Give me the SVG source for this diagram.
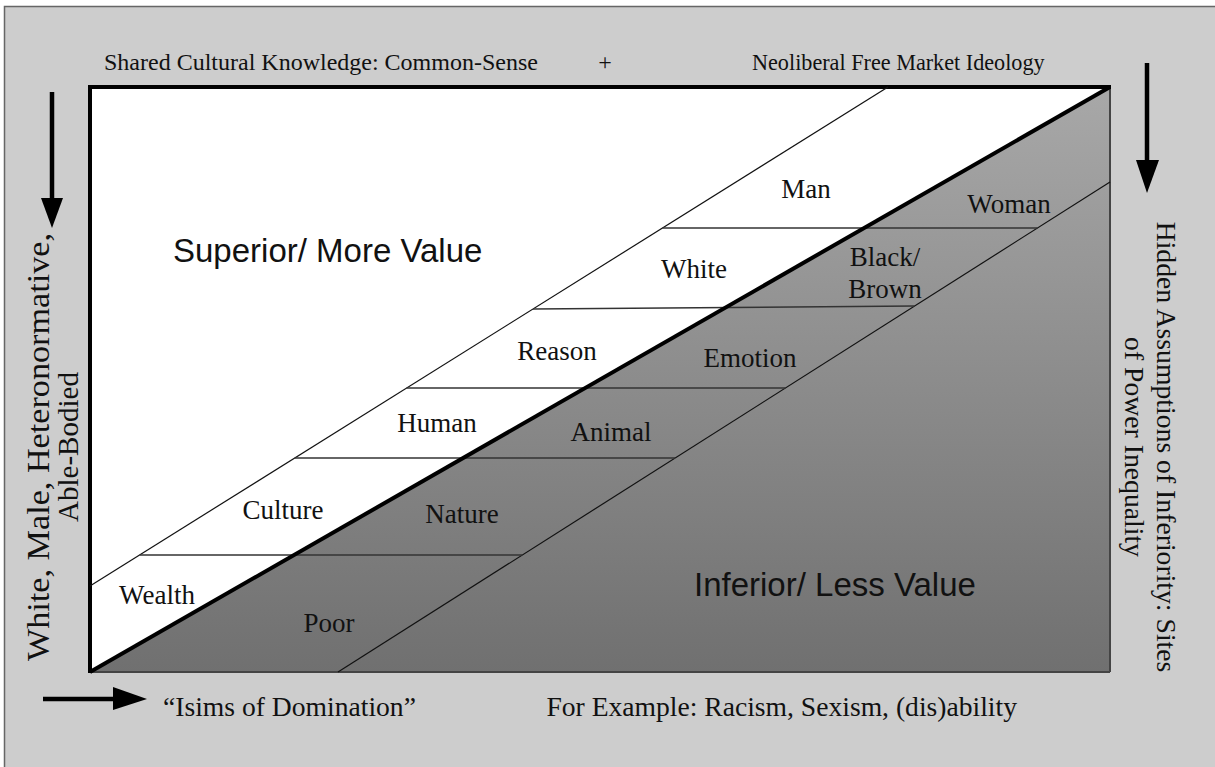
<svg xmlns="http://www.w3.org/2000/svg" width="1215" height="767" viewBox="0 0 1215 767">
<defs>
<linearGradient id="g" x1="0" y1="87" x2="0" y2="672" gradientUnits="userSpaceOnUse">
<stop offset="0" stop-color="#a8a8a8"/>
<stop offset="1" stop-color="#707070"/>
</linearGradient>
<style>
.t{font-family:"Liberation Serif","Times New Roman",serif;font-size:27px;fill:#111}
.top{font-family:"Liberation Serif","Times New Roman",serif;font-size:24px;fill:#111}
.side{font-family:"Liberation Serif","Times New Roman",serif;font-size:27.7px;fill:#111}
.lside{font-family:"Liberation Serif","Times New Roman",serif;font-size:29px;fill:#111}
.foot{font-family:"Liberation Serif","Times New Roman",serif;font-size:27.6px;fill:#111}
.big{font-family:"Liberation Sans",Arial,sans-serif;font-size:33px;fill:#111}
.thin{stroke:#111;stroke-width:1.2;fill:none}
.h{stroke:#333;stroke-width:1.6;fill:none}
.arr{stroke:#000;stroke-width:4.5;fill:none}
</style>
</defs>
<rect x="0" y="0" width="1215" height="767" fill="#ffffff"/>
<rect x="4.5" y="6.5" width="1220" height="770" fill="#cdcdcd" stroke="#666" stroke-width="1.5"/>
<g id="field">
<rect x="90" y="87" width="1020" height="585" fill="#ffffff"/>
<polygon points="90,672 1110,87 1110,672" fill="url(#g)"/>
<line x1="1110" y1="87" x2="1110" y2="672" stroke="#444" stroke-width="2"/>
<line x1="90" y1="672" x2="1110" y2="672" stroke="#444" stroke-width="2"/>
<line x1="90" y1="87" x2="1111" y2="87" stroke="#000" stroke-width="4"/>
<line x1="90" y1="85" x2="90" y2="673" stroke="#000" stroke-width="4"/>
</g>
<g id="connectors">
<line class="thin" x1="90" y1="586" x2="888" y2="87"/>
<line class="thin" x1="338" y1="672" x2="1110" y2="182"/>
<line class="h" x1="139.6" y1="555" x2="522" y2="555"/>
<line class="h" x1="294.7" y1="458" x2="675" y2="458"/>
<line class="h" x1="406.6" y1="388" x2="785.5" y2="388"/>
<line class="h" x1="533" y1="309" x2="914.6" y2="306"/>
<line class="h" x1="662.5" y1="228" x2="1037.5" y2="228"/>
<line x1="90" y1="672" x2="1110" y2="87" stroke="#000" stroke-width="4"/>
<line class="arr" x1="52" y1="92" x2="52" y2="202"/>
<polygon points="41,198 63,198 52,228" fill="#000"/>
<line class="arr" x1="1147" y1="63" x2="1147" y2="164"/>
<polygon points="1136,160 1159,160 1147,193" fill="#000"/>
<line class="arr" x1="43" y1="699" x2="117" y2="699"/>
<polygon points="113,687 113,710 147,699" fill="#000"/>
</g>
<g id="header">
<text class="top" x="104" y="70">Shared Cultural Knowledge: Common-Sense</text>
<text class="top" x="605" y="70" text-anchor="middle">+</text>
<text class="top" x="752" y="70" style="font-size:22.2px">Neoliberal Free Market Ideology</text>
</g>
<g id="superior"><text class="big" x="173" y="262">Superior/ More Value</text></g>
<g id="inferior"><text class="big" x="694" y="596">Inferior/ Less Value</text></g>
<g id="wealth"><text class="t" x="157" y="604" text-anchor="middle">Wealth</text></g>
<g id="poor"><text class="t" x="329" y="632" text-anchor="middle">Poor</text></g>
<g id="culture"><text class="t" x="283" y="519" text-anchor="middle">Culture</text></g>
<g id="nature"><text class="t" x="462" y="523" text-anchor="middle">Nature</text></g>
<g id="human"><text class="t" x="437" y="432" text-anchor="middle">Human</text></g>
<g id="animal"><text class="t" x="611" y="441" text-anchor="middle">Animal</text></g>
<g id="reason"><text class="t" x="557" y="360" text-anchor="middle">Reason</text></g>
<g id="emotion"><text class="t" x="750" y="367" text-anchor="middle">Emotion</text></g>
<g id="white"><text class="t" x="694" y="278" text-anchor="middle">White</text></g>
<g id="blackbrown"><text class="t" x="885" y="266" text-anchor="middle">Black/</text><text class="t" x="885" y="298" text-anchor="middle">Brown</text></g>
<g id="man"><text class="t" x="806" y="198" text-anchor="middle">Man</text></g>
<g id="woman"><text class="t" x="1009" y="213" text-anchor="middle">Woman</text></g>
<g id="left-label">
<text class="lside" transform="translate(49,447) rotate(-90)" text-anchor="middle" style="font-size:31px" textLength="428" lengthAdjust="spacingAndGlyphs">White, Male, Heteronormative,</text>
<text class="lside" transform="translate(78,447) rotate(-90)" text-anchor="middle">Able-Bodied</text>
</g>
<g id="right-label">
<text class="side" transform="translate(1157,447) rotate(90)" text-anchor="middle">Hidden Assumptions of Inferiority: Sites</text>
<text class="side" transform="translate(1125,447) rotate(90)" text-anchor="middle">of Power Inequality</text>
</g>
<g id="footer">
<text class="foot" x="163" y="716">“Isims of Domination”</text>
<text class="foot" x="1017" y="716" text-anchor="end">For Example: Racism, Sexism, (dis)ability</text>
</g>
</svg>
